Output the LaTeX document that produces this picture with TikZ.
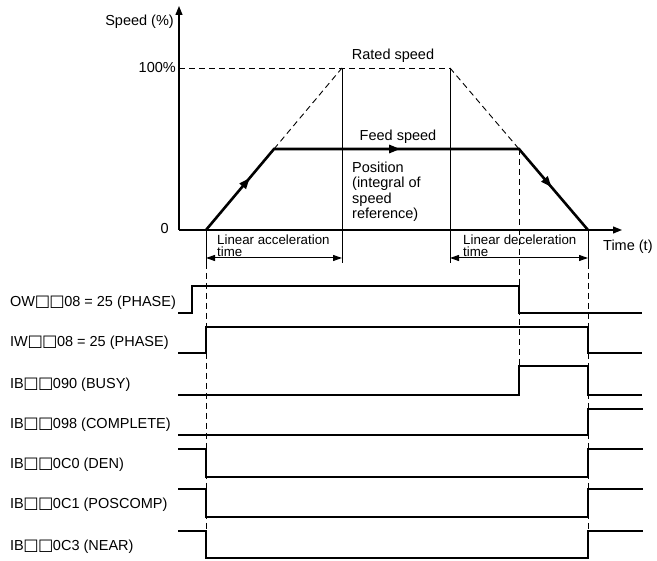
\documentclass[tikz,border=0pt]{standalone}
\usepackage{fontspec}
\setmainfont{Liberation Sans}
\newfontfamily\symfont[Scale=1.12]{DejaVu Sans}
\usetikzlibrary{arrows.meta,decorations.markings}
\newcommand{\sqbox}{{\symfont\kern-0.4pt\char"25A1\kern-0.4pt}}
\begin{document}
\begin{tikzpicture}[x=1pt,y=-1pt,
  font=\fontsize{14.5}{15.5}\selectfont,
  axisline/.style={line width=1.2pt,-{Triangle[length=9pt,width=7pt]}},
  prof/.style={line width=2.6pt,line join=miter},
  guide/.style={line width=0.9pt,dash pattern=on 6pt off 4pt},
  sig/.style={line width=1.4pt,line join=miter},
  vline/.style={line width=1pt},
  dimarrow/.style={line width=1pt,{Triangle[length=9pt,width=6pt]}-{Triangle[length=9pt,width=6pt]}},
  lbl/.style={inner sep=0pt},
  small/.style={font=\fontsize{13.3}{12}\selectfont}
]
\useasboundingbox (0,0) rectangle (657,561);

% key points
\coordinate (O) at (179,230);
\coordinate (ytop) at (179,6);
\coordinate (xend) at (622,230);
\coordinate (s0) at (206,230);
\coordinate (s1) at (274,149);
\coordinate (s2) at (519,149);
\coordinate (s3) at (588,230);
\coordinate (r0) at (179,68);
\coordinate (r1) at (342,68);
\coordinate (r2) at (450,68);
\coordinate (r1b) at (342,263);
\coordinate (r2b) at (450,263);
\coordinate (s0b) at (206,263);
\coordinate (s3b) at (588,263);
\coordinate (a1) at (206,258);
\coordinate (a2) at (342,258);
\coordinate (a3) at (450,258);
\coordinate (a4) at (588,258);
\coordinate (d0) at (206,531);
\coordinate (d2) at (519,366);
\coordinate (d3) at (588,531);

% guides
\draw[guide] (r0) -- (r2);
\draw[guide] (s1) -- (r1);
\draw[guide] (r2) -- (s2);
\draw[guide] (s0b) -- (d0);
\draw[guide] (s2) -- (d2);
\draw[guide] (s3b) -- (d3);

% solid verticals
\draw[vline] (r1) -- (r1b);
\draw[vline] (r2) -- (r2b);
\draw[vline] (s0) -- (s0b);
\draw[vline] (s3) -- (s3b);

% dimension arrows
\draw[dimarrow] (a1) -- (a2);
\draw[dimarrow] (a3) -- (a4);

% axes
\draw[axisline] (O) -- (ytop);
\draw[axisline] (O) -- (xend);

% speed profile
\draw[prof,postaction={decorate},decoration={markings,
  mark=at position 68pt with {\arrow{Triangle[length=11pt,width=8pt]}},
  mark=at position 232pt with {\arrow{Triangle[length=11pt,width=8pt]}},
  mark=at position 401pt with {\arrow{Triangle[length=11pt,width=8pt]}}}]
  (s0) -- (s1) -- (s2) -- (s3);

% labels of graph
\node[lbl,anchor=east] (speedlbl) at (174,22) {Speed (\%)};
\node[lbl,anchor=east] (hund) at (176,68) {100\%};
\node[lbl,anchor=east] (zero) at (169,229) {0};
\node[lbl] (rated) at (393,56) {Rated speed};
\node[lbl] (feed) at (398,137) {Feed speed};
\node[lbl,anchor=north west,align=left] (pos) at (352,161.5) {Position\\(integral of\\speed\\reference)};
\node[lbl,small,anchor=north west,align=left] (acc) at (217,234.5) {Linear acceleration\\time};
\node[lbl,small,anchor=north west,align=left] (dec) at (463,234.5) {Linear deceleration\\time};
\node[lbl,anchor=west] (timelbl) at (603,247) {Time (t)};

% signal labels
\node[lbl,anchor=west] (l1) at (10,303) {OW\sqbox\sqbox08 = 25 (PHASE)};
\node[lbl,anchor=west] (l2) at (10,343) {IW\sqbox\sqbox08 = 25 (PHASE)};
\node[lbl,anchor=west] (l3) at (10,385) {IB\sqbox\sqbox090 (BUSY)};
\node[lbl,anchor=west] (l4) at (10,425) {IB\sqbox\sqbox098 (COMPLETE)};
\node[lbl,anchor=west] (l5) at (10,465) {IB\sqbox\sqbox0C0 (DEN)};
\node[lbl,anchor=west] (l6) at (10,505) {IB\sqbox\sqbox0C1 (POSCOMP)};
\node[lbl,anchor=west] (l7) at (10,547) {IB\sqbox\sqbox0C3 (NEAR)};

% signals
\draw[sig] (178,313) -- (192,313) -- (192,286) -- (519,286) -- (519,313) -- (642,313);
\draw[sig] (178,353) -- (206,353) -- (206,327) -- (588,327) -- (588,353) -- (642,353);
\draw[sig] (178,395) -- (519,395) -- (519,366) -- (588,366) -- (588,395) -- (642,395);
\draw[sig] (178,435) -- (588,435) -- (588,409) -- (643,409);
\draw[sig] (178,449) -- (206,449) -- (206,477) -- (588,477) -- (588,449) -- (643,449);
\draw[sig] (178,489) -- (206,489) -- (206,517) -- (588,517) -- (588,489) -- (643,489);
\draw[sig] (178,531) -- (206,531) -- (206,558) -- (588,558) -- (588,531) -- (643,531);
\end{tikzpicture}
\end{document}
